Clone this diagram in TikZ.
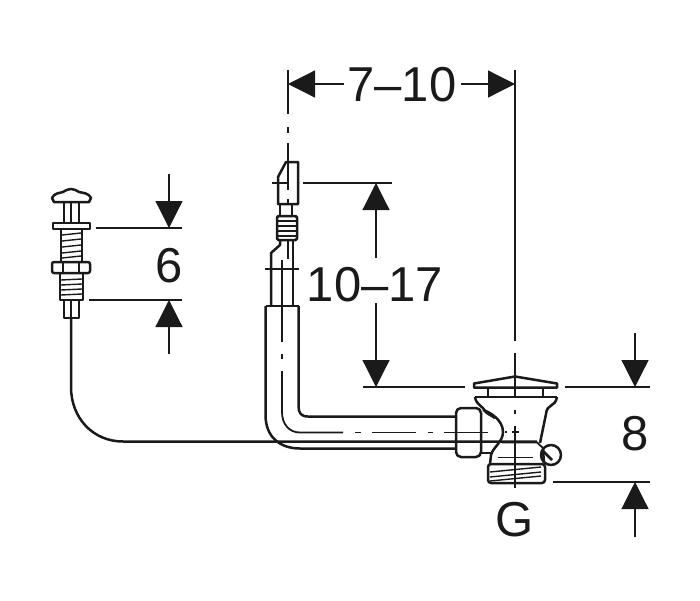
\documentclass[tikz,border=0pt]{standalone}
\usepackage{fontspec}
\setmainfont{Liberation Sans}
\usetikzlibrary{arrows.meta}
\definecolor{ink}{HTML}{1A1A1A}
\tikzset{
  part/.style={draw=ink,line width=2.5pt,line join=round},
  fine/.style={draw=ink,line width=1.4pt},
  mid/.style={draw=ink,line width=1.8pt},
  dimline/.style={draw=ink,line width=1.2pt},
  dimarrow/.style={draw=ink,line width=1.2pt,-{Triangle[length=27pt,width=27pt,fill=ink]},shorten >=0pt},
  dimtext/.style={text=ink,inner sep=0pt,font=\fontsize{49}{49}\selectfont}
}
\begin{document}
\begin{tikzpicture}[x=1pt,y=-1pt]
\useasboundingbox (0,0) rectangle (700,600);
\fill[white] (0,0) rectangle (700,600);

% ---------- dimension coordinates
\coordinate (wL) at (288,84);  \coordinate (wLf) at (344,84);
\coordinate (wR) at (515,84);  \coordinate (wRf) at (461,84);
\coordinate (a6t) at (169,228); \coordinate (a6tf) at (169,174);
\coordinate (a6b) at (169,300); \coordinate (a6bf) at (169,354);
\coordinate (hT) at (376,183); \coordinate (hTf) at (376,258);
\coordinate (hB) at (376,387); \coordinate (hBf) at (376,303);
\coordinate (a8t) at (635,387); \coordinate (a8tf) at (635,333);
\coordinate (a8b) at (635,482); \coordinate (a8bf) at (635,537);

\node[dimtext] (t710) at (402,85) {7–10};
\node[dimtext] (t6) at (169,266) {6};
\node[dimtext] (t1017) at (375,285) {10–17};
\node[dimtext] (t8) at (635,434) {8};
\node[dimtext] (tG) at (515,520) {G};

\draw[dimarrow] (wLf) -- (wL);
\draw[dimarrow] (wRf) -- (wR);
\draw[dimarrow] (a6tf) -- (a6t);
\draw[dimarrow] (a6bf) -- (a6b);
\draw[dimarrow] (hTf) -- (hT);
\draw[dimarrow] (hBf) -- (hB);
\draw[dimarrow] (a8tf) -- (a8t);
\draw[dimarrow] (a8bf) -- (a8b);

% extension lines
\draw[dimline] (96,228) -- (182,228);
\draw[dimline] (89,300) -- (182,300);
\draw[dimline] (303,183) -- (392,183);
\draw[dimline] (363,387) -- (465,387);
\draw[dimline] (565,387) -- (650,387);
\draw[dimline] (553,482) -- (650,482);
\draw[dimline] (515,70) -- (515,341);

% ---------- left screw
\draw[part] (52,198) .. controls (54,193) and (60,193) .. (63,192)
  .. controls (66,190) and (69,189) .. (71,189)
  .. controls (73,189) and (76,190) .. (79,192)
  .. controls (83,193) and (89,193) .. (91,198)
  -- (89,202) -- (54,202) -- cycle;
\draw[part] (64,202) -- (64,223) (79,202) -- (79,223);
\draw[fine] (71,203) -- (71,223);
\draw[part] (53,223) rectangle (90,229);
\draw[part] (61,229) -- (61,262) (82,229) -- (82,262);
\foreach \y in {235,241,247,253,258} \draw[fine] (62,\y) -- (81,\y-2);
\draw[part,rounded corners=2pt] (52,262) rectangle (90,273);
\draw[fine] (63,263) -- (63,272) (79,263) -- (79,272);
\draw[part] (60,273) -- (60,300) -- (83,300) -- (83,273);
\foreach \y in {280,285,290,295} \draw[fine] (61,\y) -- (82,\y-1);
\draw[part] (64,300) -- (64,318) -- (79,318) -- (79,300);
\draw[fine] (71,301) -- (71,317);
% cable
\draw[part] (71,318) -- (71,387) .. controls (71,418) and (93,441.5) .. (123,441.5) -- (537,441.5);

% ---------- vertical tail piece
\draw[part] (278,177) -- (286,162) -- (298,162) -- (298,204) -- (278,204) -- cycle;
\draw[part] (280,204) -- (280,216) (292,204) -- (292,216);
\draw[part,rounded corners=1.5pt] (277,216) rectangle (297,240);
\foreach \y in {221,226,231,236} \draw[part] (277,\y) -- (297,\y);
\draw[part] (280,241) -- (280,245) -- (271,253) -- (271,306);
\draw[part] (293,240) -- (293,306);
\draw[mid] (265,269) -- (299,269);
\draw[fine] (272,183) -- (289,183);
\draw[fine] (288,70) -- (288,114);
\draw[fine] (288,127) -- (288,133);
\draw[fine] (288,143) -- (288,190) (288,199) -- (288,204);
\draw[fine] (288,240) -- (288,259);
\draw[fine] (282,260) -- (282,306);

% ---------- elbow pipe
\draw[part] (265.5,306) -- (298.5,306);
\draw[part] (298.5,306) -- (298.5,406) .. controls (298.5,413) and (301,416.5) .. (308,416.5) -- (456,416.5);
\draw[part] (265.5,306) -- (265.5,415) .. controls (265.5,437) and (280,448.5) .. (300,448.5) -- (456,448.5);
\draw[mid] (282,306) -- (282,342) (282,354) -- (282,359);
\draw[mid] (282,371) -- (282,412) .. controls (282,424) and (289,432.5) .. (300,432.5) -- (343,432.5);
\draw[mid] (355,432.5) -- (361,432.5) (372,432.5) -- (416,432.5) (428,432.5) -- (433,432.5) (444,432.5) -- (488,432.5);

% ---------- union nut
\draw[part,rounded corners=5pt] (481,408) -- (456,408) -- (456,457) -- (481,457) -- cycle;
\draw[part] (483,410) .. controls (490,412) and (503,420) .. (503,432)
  .. controls (503,442) and (493,447) .. (491,455) -- (490,464);
\draw[part] (481,453) -- (491,453);

% ---------- waste valve body
\draw[part] (474,383.5) -- (515,376.5) -- (557,383.5) -- (557,387.5) -- (474,387.5) -- cycle;
\draw[part] (488,387.5) -- (488,397) (543,387.5) -- (543,397);
\draw[part] (475,397) -- (557,397);
\draw[part] (475,397) .. controls (476,405) and (483,406) .. (485,411) .. controls (487,414) and (491,415) .. (495,418);
\draw[part] (557,397) .. controls (555,408) and (547,403) .. (546,414) -- (540,443);
\draw[mid] (502,442.5) -- (537,442.5) -- (544,449);
\draw[part] (544,463) -- (543,449);
\draw[part] (551,455) circle[radius=10];
\draw[part] (542,450) -- (552,460);
\draw[mid] (498,457.5) -- (533,457.5);
\draw[part,rounded corners=3pt] (488,464) rectangle (545,483);
\foreach \y in {472,477,481} \draw[fine] (490,\y) -- (541,\y-5);
% axis
\draw[dimline] (515,353) -- (515,397);
\draw[mid] (515,410) -- (515,414);
\draw[dimline] (515,426) -- (515,488);
\draw[fine] (505,432) -- (507,432) (512,432) -- (519,432);
\end{tikzpicture}
\end{document}
